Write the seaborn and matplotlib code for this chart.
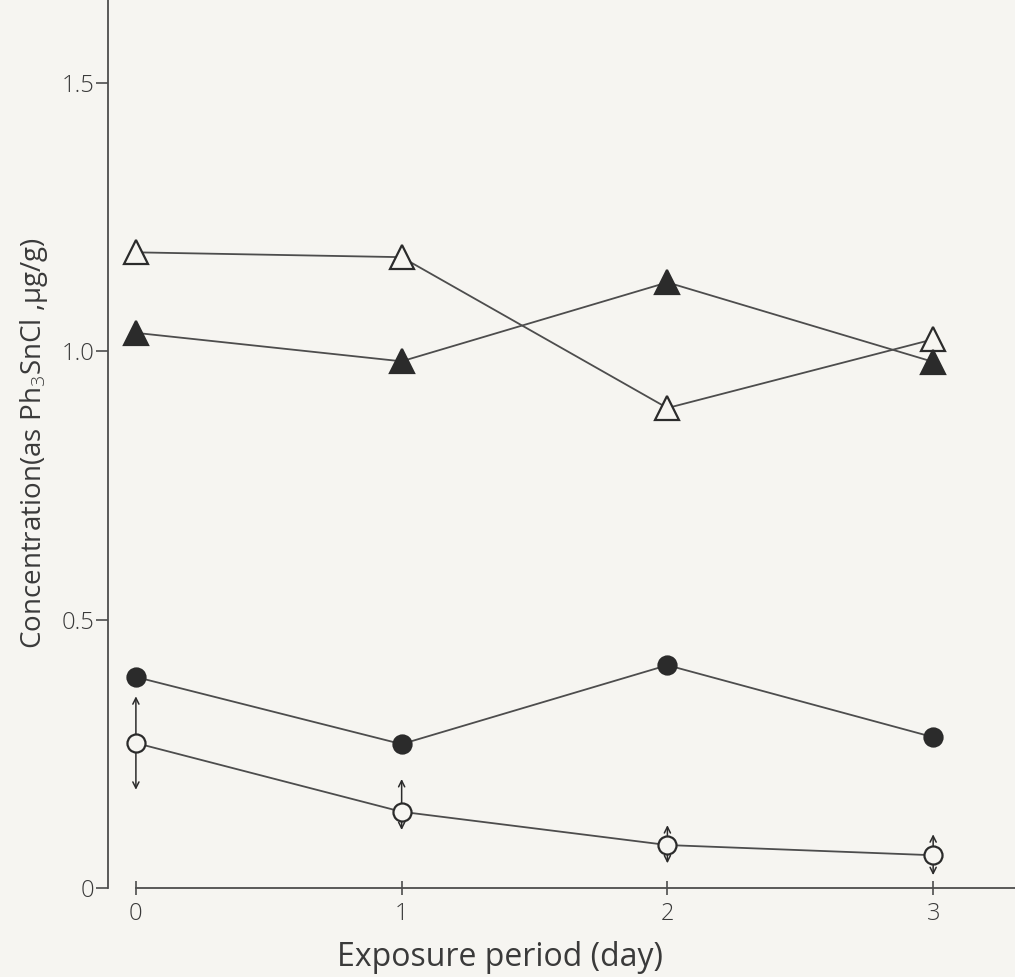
import matplotlib
matplotlib.use("Agg")
import matplotlib.pyplot as plt
import pandas as pd
import seaborn as sns

# Exposure period (days) and measured concentrations (as Ph3SnCl, ug/g)
days = [0, 1, 2, 3]
open_triangle = [1.184, 1.175, 0.894, 1.022]
filled_triangle = [1.034, 0.981, 1.128, 0.980]
filled_circle = [0.393, 0.268, 0.415, 0.281]
open_circle = [0.270, 0.142, 0.080, 0.061]
# range of the open-circle series (below / above the mean)
open_circle_err_low = [0.087, 0.034, 0.034, 0.037]
open_circle_err_high = [0.087, 0.061, 0.037, 0.039]

y_ticks = [0, 0.5, 1.0, 1.5]
y_tick_labels = ["0", "0.5", "1.0", "1.5"]
x_label = "Exposure period (day)"
y_label = "Concentration(as Ph$_3$SnCl ,μg/g)"

paper = "#f6f5f1"
ink = "#2b2b2b"
line_col = "#4d4d4d"
text_col = "#3a3a3a"

sns.set_theme(style="ticks")
plt.rcParams["font.family"] = ["Open Sans", "DejaVu Sans"]
plt.rcParams["font.weight"] = "light"
plt.rcParams["mathtext.fontset"] = "custom"
plt.rcParams["mathtext.rm"] = "Open Sans:light"
plt.rcParams["mathtext.it"] = "Open Sans:light"
plt.rcParams["mathtext.default"] = "rm"

fig = plt.figure(figsize=(10.15, 9.77), dpi=100, facecolor=paper)
ax = fig.add_axes([0.1064, 0.0911, 0.8936, 0.9089])
ax.set_facecolor(paper)

series = [
    (open_triangle, "^", 17, paper),
    (filled_triangle, "^", 17, ink),
    (filled_circle, "o", 13, ink),
    (open_circle, "o", 13, paper),
]
for values, marker, size, face in series:
    df = pd.DataFrame({"day": days, "conc": values})
    sns.lineplot(data=df, x="day", y="conc", ax=ax, color=line_col,
                 linewidth=1.3, marker=marker, markersize=size,
                 markerfacecolor=face, markeredgecolor=ink,
                 markeredgewidth=1.6, zorder=3)

# double-headed range arrows on the open circles
for d, v, lo, hi in zip(days, open_circle, open_circle_err_low, open_circle_err_high):
    for tip in (v + hi, v - lo):
        ax.annotate("", xy=(d, tip), xytext=(d, v), zorder=1,
                    arrowprops=dict(arrowstyle="->", color=ink, lw=1.1,
                                    shrinkA=0, shrinkB=0, mutation_scale=11))

ax.set_xlim(-0.105, 3.308)
ax.set_ylim(0, 1.654)

ax.set_xticks(days)
ax.set_xticklabels([str(d) for d in days])
ax.set_yticks(y_ticks)
ax.set_yticklabels(y_tick_labels)

for s in ("top", "right"):
    ax.spines[s].set_visible(False)
ax.spines["bottom"].set_bounds(0, 3.308)
for s in ("left", "bottom"):
    ax.spines[s].set_color(line_col)
    ax.spines[s].set_linewidth(1.3)

ax.tick_params(axis="x", direction="inout", length=10, width=1.2,
               colors=line_col, labelcolor=text_col, labelsize=17, pad=5)
ax.tick_params(axis="y", direction="out", length=9, width=1.2,
               colors=line_col, labelcolor=text_col, labelsize=17, pad=1)

ax.set_xlabel(x_label, fontsize=23, color=text_col)
ax.set_ylabel(y_label, fontsize=20, color=text_col)
ax.xaxis.set_label_coords(0.432, -0.060)
ax.yaxis.set_label_coords(-0.064, 0.501)

fig.savefig("out.png", dpi=100, facecolor=paper)
